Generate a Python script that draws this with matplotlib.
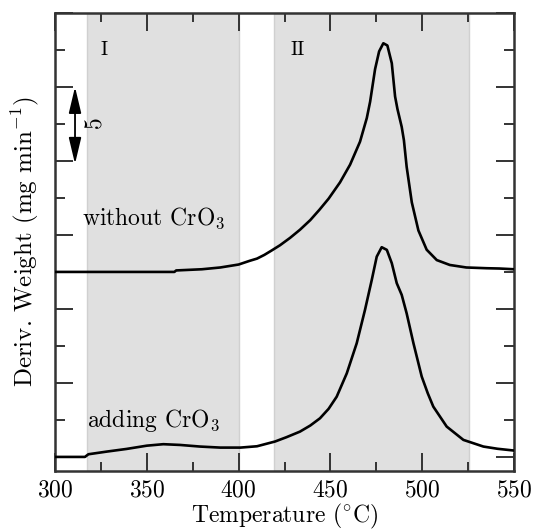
"""
DTG curves of the residue with and without CrO3 addition.
"""

import numpy as np
import matplotlib
matplotlib.use("Agg")
import matplotlib.pyplot as plt
from matplotlib.ticker import MultipleLocator

plt.rcParams["font.family"] = "serif"
plt.rcParams["font.serif"] = ["cmr10", "DejaVu Serif"]
plt.rcParams["mathtext.fontset"] = "cm"
plt.rcParams["axes.unicode_minus"] = False
plt.rcParams["axes.formatter.use_mathtext"] = True

# without CrO3 (curve shifted up by 12.5)
t_plain = [300, 365, 366, 380, 390, 400, 406, 410, 414, 418, 422.5, 428, 433.4,
           439, 444, 449, 455.2, 460.7, 466.1, 469.8, 471.6, 474.3, 476.5,
           478.8, 481, 483.4, 485.2, 486.5, 488.8, 490, 491.5, 494.3, 497.9,
           502.4, 507.9, 515, 524, 535, 542, 550]
d_plain = [12.5, 12.5, 12.6, 12.68, 12.8, 13.0, 13.25, 13.4, 13.65, 13.95, 14.3,
           14.8, 15.35, 16.0, 16.7, 17.45, 18.55, 19.75, 21.3, 22.9, 24.0, 26.2,
           27.4, 27.95, 27.8, 26.6, 24.35, 23.5, 22.3, 21.4, 19.6, 17.2, 15.3,
           14.0, 13.3, 12.97, 12.8, 12.75, 12.73, 12.68]

# adding CrO3
t_cro3 = [300, 316.3, 318.2, 328.2, 339, 350, 359, 368, 379, 390, 401, 410,
          419.8, 426, 433.4, 439, 444.3, 449, 453.4, 458.9, 464.3, 468.8, 472.5,
          475.2, 477.9, 480.7, 483.4, 486.1, 488.8, 491.5, 495.2, 499.7, 503,
          506, 513.3, 522.4, 533.3, 541, 550]
d_cro3 = [0, 0, 0.18, 0.36, 0.54, 0.76, 0.86, 0.81, 0.70, 0.63, 0.63, 0.72,
          1.04, 1.33, 1.71, 2.12, 2.61, 3.25, 4.07, 5.65, 7.68, 9.93, 11.96,
          13.53, 14.17, 13.99, 13.09, 11.74, 10.95, 9.7, 7.68, 5.43, 4.3, 3.4,
          2.05, 1.15, 0.70, 0.55, 0.43]

# temperature windows of the two decomposition stages
stages = [(317.4, 400.2, "I"), (419.3, 525.5, "II")]

FS = 17
AX_COL = "#333333"

fig = plt.figure(figsize=(5.34, 5.32), dpi=100)
ax = fig.add_axes([0.103, 0.1147, 0.8597, 0.861])

for lo, hi, name in stages:
    ax.axvspan(lo, hi, facecolor="#e0e0e0", edgecolor="#d0d0d0", lw=1, zorder=0)
    ax.text(lo + 9.3 if name == "I" else lo + 13, 27.5, name, fontsize=FS - 3,
            ha="center", va="center")

ax.plot(t_plain, d_plain, color="black", lw=1.9, zorder=3)
ax.plot(t_cro3, d_cro3, color="black", lw=1.9, zorder=3)

ax.text(314.5, 16.1, r"without CrO$_3$", fontsize=FS, ha="left", va="center")
ax.text(317.4, 2.45, r"adding CrO$_3$", fontsize=FS, ha="left", va="center")

# scale bar: 5 mg/min
ax.annotate("", xy=(310.9, 25.0), xytext=(310.9, 19.8),
            arrowprops=dict(arrowstyle="<|-|>,head_length=1.6,head_width=0.38",
                            color="black", lw=1.3, mutation_scale=10,
                            shrinkA=0, shrinkB=0))
ax.text(321.8, 22.6, "5", fontsize=FS, rotation=90, ha="center", va="center")

ax.set_xlim(300, 550)
ax.set_ylim(-0.95, 30.0)
ax.xaxis.set_major_locator(MultipleLocator(50))
ax.xaxis.set_minor_locator(MultipleLocator(25))
ax.yaxis.set_major_locator(MultipleLocator(5))
ax.yaxis.set_minor_locator(MultipleLocator(2.5))
ax.set_yticklabels([])
ax.tick_params(which="both", direction="in", top=True, right=True,
               color=AX_COL, width=1.4, labelsize=FS, pad=6)
ax.tick_params(which="major", length=13)
ax.tick_params(which="minor", length=6.5)
ax.tick_params(axis="y", which="minor", left=True, length=7.5)
for sp in ax.spines.values():
    sp.set_color(AX_COL)
    sp.set_linewidth(1.8)

ax.set_xlabel(r"Temperature ($^{\circ}$C)", fontsize=FS, labelpad=0)
ax.set_ylabel(r"Deriv. Weight (mg min$^{-1}$)", fontsize=FS + 1, labelpad=4)

fig.savefig("out.png", dpi=100)
